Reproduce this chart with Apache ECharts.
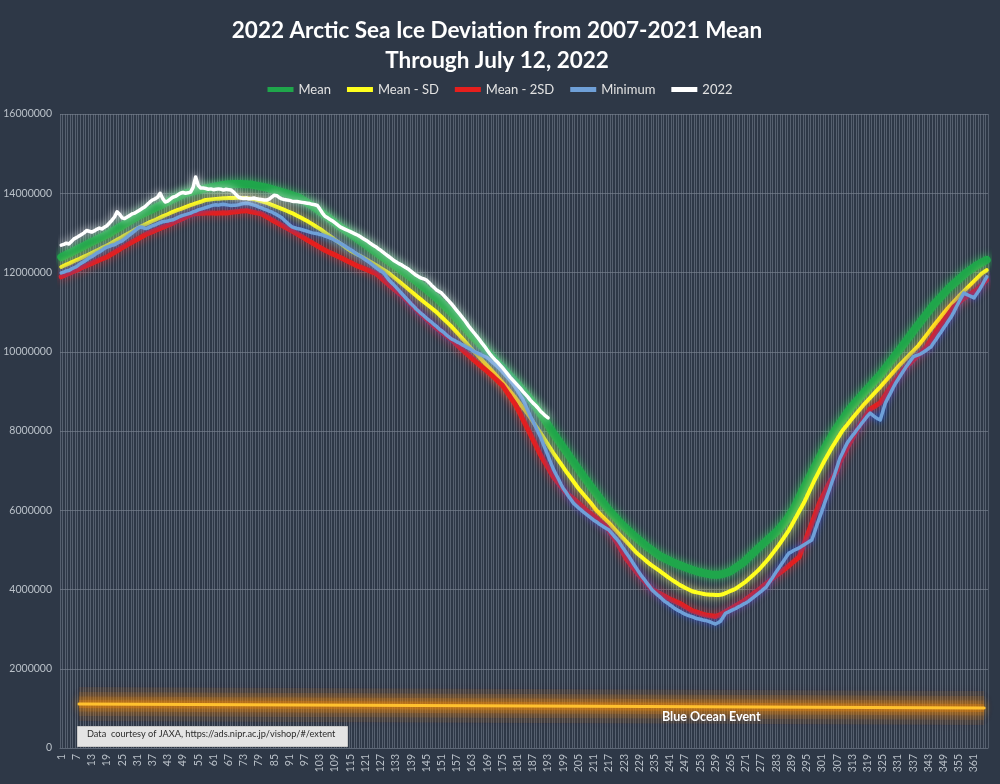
<!DOCTYPE html>
<html><head><meta charset="utf-8">
<script src="https://cdn.jsdelivr.net/npm/echarts@6/dist/echarts.min.js"></script>
<style>html,body{margin:0;padding:0;background:#2e3847;}#c{width:1000px;height:784px;}</style>
</head><body><div id="c"></div>
<script>
// Values in thousands of km^2, day of year 1..366
const meanK = [
12390,12420,12450,12480,12510,12545,12575,12610,12640,12670,
12705,12740,12770,12800,12835,12865,12895,12925,12960,12990,
13030,13070,13105,13145,13180,13220,13260,13295,13335,13375,
13410,13450,13480,13510,13540,13570,13600,13630,13660,13690,
13720,13755,13785,13820,13850,13880,13910,13940,13970,14000,
14015,14030,14050,14065,14080,14095,14110,14125,14135,14150,
14160,14175,14185,14200,14210,14220,14225,14230,14232,14234,
14235,14233,14230,14228,14224,14220,14205,14192,14180,14166,
14153,14140,14122,14104,14086,14068,14050,14030,14010,13990,
13970,13950,13927,13903,13880,13840,13800,13760,13720,13680,
13634,13588,13542,13496,13450,13400,13350,13300,13250,13200,
13156,13112,13068,13024,12980,12934,12888,12842,12796,12750,
12703,12657,12610,12563,12517,12470,12426,12382,12338,12294,
12250,12204,12158,12112,12066,12020,11972,11923,11875,11827,
11778,11730,11677,11624,11571,11519,11466,11413,11360,11297,
11233,11170,11107,11043,10980,10909,10837,10766,10694,10623,
10551,10480,10411,10343,10274,10206,10137,10069,10000,9933,
9867,9800,9733,9667,9600,9530,9460,9390,9320,9250,
9175,9100,9025,8950,8875,8800,8710,8620,8530,8440,
8350,8250,8150,8050,7950,7858,7767,7675,7583,7492,
7400,7308,7217,7125,7033,6942,6850,6764,6678,6592,
6506,6420,6336,6252,6168,6084,6000,5930,5860,5790,
5720,5650,5590,5530,5470,5410,5350,5296,5242,5188,
5134,5080,5034,4988,4942,4896,4850,4818,4786,4754,
4722,4690,4664,4638,4612,4586,4560,4538,4516,4494,
4472,4450,4436,4422,4408,4394,4380,4375,4372,4374,
4380,4395,4415,4437,4460,4504,4548,4592,4636,4680,
4742,4803,4865,4927,4988,5050,5107,5164,5221,5279,
5336,5393,5450,5525,5600,5675,5750,5850,5950,6050,
6183,6317,6450,6575,6700,6825,6950,7075,7200,7325,
7450,7560,7670,7780,7890,8000,8093,8187,8280,8373,
8467,8560,8633,8707,8780,8853,8927,9000,9070,9140,
9210,9280,9350,9420,9503,9586,9669,9751,9834,9917,
10000,10086,10171,10257,10343,10429,10514,10600,10683,10766,
10849,10931,11014,11097,11180,11250,11320,11390,11460,11530,
11600,11657,11714,11771,11829,11886,11943,12000,12045,12090,
12135,12180,12215,12250,12285,12320];

const meanMinusSdK = [
12140,12170,12200,12225,12255,12285,12315,12340,12370,12400,
12430,12460,12490,12525,12555,12585,12620,12650,12680,
12715,12750,12790,12825,12860,12895,12935,12970,13005,13040,13080,13115,13150,
13180,13210,13240,13270,13300,13325,13355,13385,13415,13445,13470,13500,13530,
13555,13580,13600,13625,13650,13675,13700,
13720,13745,13765,13785,13810,13830,
13838,13845,13852,13858,13864,13870,
13872,13875,13877,13880,13882,13884,13885,
13882,13878,13872,13865,13858,13850,
13832,13814,13796,13778,13760,
13734,13708,13682,13656,13630,
13604,13578,13552,13526,13500,
13467,13433,13400,13367,13333,13300,
13260,13220,13180,13140,13100,
13054,13009,12963,12917,12871,12826,12780,
12734,12688,12642,12596,12550,
12516,12482,12448,12414,12380,
12342,12304,12266,12228,12190,
12150,12110,12070,12030,11990,
11938,11887,11835,11783,11732,11680,
11627,11573,11520,11467,11413,11360,
11309,11257,11206,11154,11103,11051,11000,
10938,10877,10815,10753,10692,10630,
10559,10487,10416,10344,10273,10201,10130,
10061,9993,9924,9856,9787,9719,9650,
9580,9510,9440,9370,9300,9230,
9154,9078,9002,8926,8850,
8766,8682,8598,8514,8430,
8334,8238,8142,8046,7950,
7850,7750,7650,7550,7450,
7358,7266,7174,7082,6990,
6902,6814,6726,6638,6550,
6474,6398,6322,6246,6170,
6085,6000,
5936,5872,5808,5744,5680,
5610,5540,5470,5400,5330,
5262,5193,5125,5057,4988,4920,
4866,4812,4758,4704,4650,
4605,4560,4515,4470,
4422,4375,4327,4280,
4238,4195,4153,4110,
4078,4046,4014,3982,3950,
3936,3922,3908,3894,3880,
3875,3870,3865,3860,
3862,3870,3880,
3908,3936,3964,3992,4020,
4065,4110,4155,4200,
4258,4316,4374,4432,4490,
4562,4635,4707,4780,
4865,4950,5035,5120,
5215,5310,5405,5500,
5617,5733,5850,
5967,6083,6200,
6337,6475,6612,6750,
6875,7000,7125,7250,
7363,7477,7590,
7692,7795,7897,8000,
8080,8160,8240,8320,
8396,8472,8548,8624,8700,
8768,8837,8905,8973,9042,9110,
9183,9256,9329,9401,9474,9547,9620,
9686,9753,9819,9885,9951,10018,10084,10150,
10233,10317,10400,10483,10567,10650,
10730,10810,10890,10970,11050,
11120,11190,11260,11330,11400,
11464,11528,11592,11656,11720,
11782,11845,11907,11970,
12015,12060];

const meanMinus2SdK = [
11890,11920,11950,11975,12005,12035,12060,12090,12120,12150,
12175,12205,12230,12260,12285,12315,12340,12365,12390,
12430,12470,12505,12545,12585,12625,12660,12700,
12735,12770,12805,12840,12875,12910,12945,12980,
13005,13030,13060,13085,13110,13140,13165,13195,13220,13250,
13280,13310,13335,13365,13395,13425,13450,13480,
13485,13490,13495,13495,13500,13500,13500,
13500,13495,13500,13500,13505,13500,
13510,13520,13525,13535,13540,13550,13555,13560,
13545,13530,13520,13505,13495,13480,
13440,13405,13370,13330,
13295,13260,13225,13190,13155,13120,13085,13050,
13010,12975,12935,12900,12860,12820,
12785,12745,12710,12670,12635,12595,12560,
12530,12500,12470,12440,12410,12380,
12350,12315,12285,12255,12220,12190,12160,
12135,12110,12085,12060,12030,12005,11980,
11925,11870,11815,11755,11700,
11645,11595,11540,11485,11435,11380,
11315,11255,11190,11125,11065,11000,
10940,10885,10825,10765,10710,10650,
10600,10550,10500,10450,10400,10350,10300,
10240,10180,10120,10060,10000,
9945,9890,9830,9775,9720,
9665,9610,9560,9505,9450,
9390,9330,9270,9210,9150,
9055,8960,8870,8775,8680,
8555,8430,8300,8175,8050,
7920,7790,7660,7530,7400,
7290,7180,7070,6960,6850,
6770,6690,6610,6530,6450,
6395,6340,6290,6235,6180,
6120,6060,6000,
5950,5900,5850,5800,
5745,5690,5635,5580,
5485,5390,5295,5200,
5090,4980,4870,4760,
4680,4595,4515,4430,4350,
4280,4210,4140,4070,4000,
3965,3935,3900,
3865,3830,3795,3760,
3730,3705,3675,3650,
3610,3570,3535,3495,3460,
3440,3420,3400,3380,3360,
3350,3340,3330,3320,
3345,3370,3400,
3440,3475,3515,3550,
3590,3625,3665,3700,
3750,3795,3845,3895,3940,3990,
4040,4095,4145,4195,4250,4300,
4350,4400,4450,4500,4550,
4605,4660,4710,4765,4820,
4990,5160,5330,5500,
5670,5840,6010,6180,
6310,6440,6570,6700,
6800,6900,7000,7200,
7330,7450,7580,7700,
7810,7920,8040,8150,
8250,8350,8450,8550,
8590,8630,8670,8710,
8810,8905,9005,9100,
9190,9275,9365,9450,9540,
9600,9665,9725,9790,9850,
9910,9975,10040,10100,
10200,10300,10400,10500,10600,
10690,10775,10865,10955,11040,11130,
11185,11240,11295,11350,
11390,11435,11475,11520,11560,
11620,11685,11745,11810];

const minimumK = [
11990,12010,12040,12050,
12090,12120,12150,
12200,12240,12280,
12320,12370,12400,
12440,12490,12520,
12560,12610,12640,
12660,12690,12700,
12740,12770,12800,
12850,12900,12950,
13000,13050,13110,13150,
13140,13110,13120,
13150,13180,13200,
13230,13260,13280,
13290,13300,13320,13330,
13360,13390,13420,
13440,13460,13480,13500,
13530,13550,13580,13600,
13620,13640,13660,13680,13700,
13710,13700,13715,13720,
13710,13700,13690,13695,13700,
13710,13730,13740,13750,
13740,13720,13700,13680,
13650,13630,13600,
13580,13550,13530,
13490,13460,13420,13380,
13320,13260,13200,13150,
13130,13110,13100,13080,
13060,13040,13020,13000,
12990,12980,12960,12950,
12920,12900,12870,12850,
12810,12780,12740,
12700,12660,12620,
12580,12540,12490,12450,
12410,12370,12320,12280,
12230,12180,12130,12080,
12040,12000,
11920,11830,
11760,11700,11630,11560,
11490,11420,11350,11280,
11210,11150,11080,11020,
10960,10910,10850,10800,
10750,10690,10640,10580,
10530,10480,10420,10370,10320,
10290,10250,10220,10180,10150,
10110,10080,10040,10000,
9970,9940,9910,9880,9850,
9790,9730,9680,9620,9560,
9490,9420,9350,9270,9200,
9100,9000,8900,8800,
8660,8520,8380,
8250,8120,7980,7850,
7690,7530,7370,7210,7050,
6920,6800,6670,6550,
6460,6360,6270,6180,
6120,6060,6010,5950,
5900,5850,5800,5750,
5710,5660,5620,
5580,5540,5500,
5430,5350,5280,5200,
5100,5010,4910,4820,
4720,4620,4520,4420,
4330,4250,4160,4080,3990,
3930,3870,3820,3760,3700,
3660,3610,3570,3520,3480,
3450,3410,3380,3350,
3330,3310,3280,3260,
3250,3230,3220,3200,
3180,3150,3130,
3160,3200,
3300,3400,
3430,3460,3490,3520,
3560,3590,3630,3660,3700,
3750,3800,3850,3900,
3950,4010,4060,
4160,4250,4350,4450,
4540,4640,4730,4830,4920,
4950,4990,5020,5050,
5090,5130,5170,5210,5250,
5430,5620,5800,
5980,6170,6350,
6530,6720,6900,
7100,7300,
7430,7570,7700,
7790,7880,7960,8050,
8130,8220,8300,
8380,8450,
8400,8350,
8310,8280,
8490,8700,
8830,8950,9080,9200,
9300,9400,9500,9600,
9690,9780,9870,
9900,9920,9950,
9990,10030,10080,10120,
10220,10310,10410,10500,
10600,10690,10790,10880,
11000,11130,11250,
11370,11480,
11450,11420,
11390,11360,
11460,11550,
11660,11780,11890];

const y2022K = [
12690,12710,12740,12720,12780,12850,12880,12920,12960,13000,
13060,13040,13020,13050,13090,13120,13100,13140,13180,13250,
13320,13400,13530,13470,13380,13360,13400,13440,13480,13500,
13540,13580,13620,13660,13720,13780,13830,13860,13900,14000,
13870,13780,13800,13850,13900,13920,13960,14000,14020,14000,
14010,14030,14150,14410,14200,14130,14130,14120,14100,14110,
14090,14100,14110,14100,14080,14100,14090,14080,14030,13960,
13900,13880,13870,13880,13860,13870,13880,13860,13850,13840,
13830,13830,13850,13900,13950,13940,13890,13860,13840,13830,
13820,13800,13790,13790,13780,13770,13760,13750,13740,13720,
13710,13690,13600,13500,13420,13380,13340,13300,13250,13200,
13150,13120,13090,13060,13030,13000,12970,12940,12900,12860,
12820,12780,12730,12690,12650,12600,12560,12510,12460,12410,
12360,12310,12270,12230,12200,12160,12120,12080,12030,11980,
11930,11890,11860,11840,11810,11750,11680,11620,11560,11520,
11480,11410,11340,11270,11200,11120,11040,10960,10880,10800,
10710,10620,10540,10460,10380,10300,10210,10130,10040,9950,
9870,9800,9740,9670,9600,9520,9440,9360,9290,9220,
9150,9080,9000,8930,8860,8780,8710,8650,8580,8500,
8440,8380,8330];

// Blue Ocean Event reference line (day of year, value in thousand km^2)
const blueOceanDays = [8, 365];
const blueOceanK = [1110, 1010];

const seriesNames = ['Mean', 'Mean - SD', 'Mean - 2SD', 'Minimum', '2022'];
const days = Array.from({length: 366}, (_, i) => String(i + 1));
const UNIT = 1000;
const toKm2 = a => a.map(v => v * UNIT);

const FONT = 'Lato, "Open Sans", sans-serif';
const chart = echarts.init(document.getElementById('c'), null, {renderer: 'canvas'});

const problems = [];
[['mean', meanK, 366], ['sd', meanMinusSdK, 366], ['2sd', meanMinus2SdK, 366], ['min', minimumK, 366], ['2022', y2022K, 193]]
  .forEach(([n, a, L]) => { if (a.length !== L) problems.push(n + ':' + a.length); });

const styles = [
  {color: '#1fa64b', width: 8, glow: 'rgba(40,220,90,0.8)', blur: 9},
  {color: '#ffff1e', width: 4, glow: 'rgba(255,255,110,0.9)', blur: 8},
  {color: '#e61f1d', width: 5, glow: 'rgba(255,40,40,0.75)', blur: 8},
  {color: '#6fa0d8', width: 3.5, glow: 'rgba(30,90,230,0.95)', blur: 6},
  {color: '#ffffff', width: 3.5, glow: 'rgba(255,255,255,0.9)', blur: 8}
];
const dataSets = [meanK, meanMinusSdK, meanMinus2SdK, minimumK, y2022K];

const blueOceanData = blueOceanDays.map((d, i) => [d - 1, blueOceanK[i] * UNIT]);

const series = [];
// soft orange halo around the Blue Ocean Event line (stacked translucent strokes)
[[34, 0.10], [24, 0.13], [15, 0.18], [8, 0.35]].forEach(([w, a], k) => {
  series.push({name: 'BOE glow ' + k, type: 'line', symbol: 'none', silent: true, data: blueOceanData, z: 1,
    lineStyle: {color: 'rgba(215,120,20,' + a + ')', width: w, shadowColor: 'rgba(230,125,10,' + (a * 2) + ')', shadowBlur: 14}});
});
series.push({name: 'Blue Ocean Event', type: 'line', symbol: 'none', silent: true, data: blueOceanData, z: 2,
  lineStyle: {color: '#ffc12e', width: 3, shadowColor: 'rgba(255,160,0,1)', shadowBlur: 10, cap: 'round'}});

seriesNames.forEach((n, i) => {
  const s = styles[i];
  series.push({
    name: n, type: 'line', symbol: 'none', data: toKm2(dataSets[i]), z: 3 + i,
    itemStyle: {color: s.color},
    lineStyle: {color: s.color, width: s.width, shadowColor: s.glow, shadowBlur: s.blur, cap: 'round', join: 'round'}
  });
});

const graphics = [
  {type: 'rect', left: 77, top: 726, shape: {width: 270, height: 20},
   style: {fill: '#e4e4e4', stroke: '#c8c8c8', lineWidth: 1}, z: 100},
  {type: 'text', left: 87, top: 730,
   style: {text: 'Data  courtesy of JAXA, https://ads.nipr.ac.jp/vishop/#/extent', fill: '#2b2b2b', font: '9.2px ' + FONT}, z: 101},
  {type: 'text', left: 662, top: 710,
   style: {text: 'Blue Ocean Event', fill: '#ffffff', font: 'bold 12.5px ' + FONT}, z: 101}
];
if (problems.length) graphics.push({type: 'text', left: 300, top: 400, style: {text: 'LEN ' + problems.join(' '), fill: 'red', font: 'bold 30px sans-serif'}, z: 200});

chart.setOption({
  backgroundColor: '#2e3847',
  animation: false,
  textStyle: {fontFamily: FONT},
  title: {
    text: '2022 Arctic Sea Ice Deviation from 2007-2021 Mean\nThrough July 12, 2022',
    left: 492, top: 11, textAlign: 'center',
    textStyle: {color: '#ffffff', fontSize: 22.5, fontWeight: 'bold', lineHeight: 30, fontFamily: FONT}
  },
  legend: {
    data: seriesNames, top: 78, left: 'center', icon: 'rect',
    itemWidth: 26, itemHeight: 5, itemGap: 16,
    textStyle: {color: '#e2e2e2', fontSize: 13, fontFamily: FONT}
  },
  grid: {left: 60, right: 12, top: 114, bottom: 36, containLabel: false},
  xAxis: {
    type: 'category', data: days, boundaryGap: true,
    axisLine: {show: true, lineStyle: {color: '#5d6776'}},
    axisTick: {show: false},
    axisLabel: {interval: 5, rotate: 90, color: '#b9c0c8', fontSize: 10.5, margin: 6, fontFamily: FONT},
    splitLine: {show: true, interval: 0, lineStyle: {color: 'rgba(120,130,143,0.55)', width: 1}}
  },
  yAxis: {
    type: 'value', min: 0, max: 16000000, interval: 2000000,
    axisLine: {show: false}, axisTick: {show: false},
    axisLabel: {color: '#b9c0c8', fontSize: 10.5, margin: 8, fontFamily: FONT, formatter: v => String(v)},
    splitLine: {lineStyle: {color: '#5f6977', width: 1}}
  },
  series: series,
  graphic: graphics
});
</script>
</body></html>
